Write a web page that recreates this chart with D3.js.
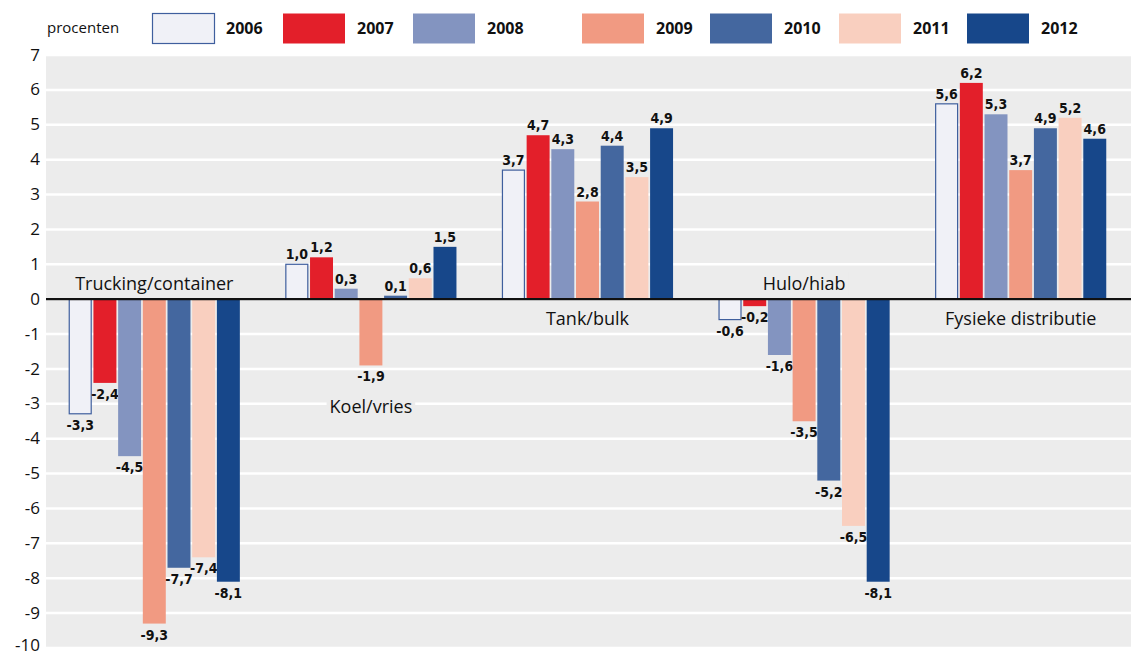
<!DOCTYPE html>
<html><head><meta charset="utf-8">
<script src="https://cdn.jsdelivr.net/npm/d3@7"></script>
<style>body{margin:0;background:#fff}</style>
</head><body>
<svg id="c" width="1131" height="655"></svg>
<script>
const categories = ["Trucking/container","Koel/vries","Tank/bulk","Hulo/hiab","Fysieke distributie"];
const years = ["2006","2007","2008","2009","2010","2011","2012"];
const v2006 = [-3.3, 1.0, 3.7, -0.6, 5.6];
const v2007 = [-2.4, 1.2, 4.7, -0.2, 6.2];
const v2008 = [-4.5, 0.3, 4.3, -1.6, 5.3];
const v2009 = [-9.3, -1.9, 2.8, -3.5, 3.7];
const v2010 = [-7.7, 0.1, 4.4, -5.2, 4.9];
const v2011 = [-7.4, 0.6, 3.5, -6.5, 5.2];
const v2012 = [-8.1, 1.5, 4.9, -8.1, 4.6];
const yTicks = [7,6,5,4,3,2,1,0,-1,-2,-3,-4,-5,-6,-7,-8,-9,-10];
const unitLabel = "procenten";

(function(){
const series = [v2006,v2007,v2008,v2009,v2010,v2011,v2012];
const colors = ["#f0f1f7","#e31f2a","#8394c0","#f19a82","#44679f","#f9cfbf","#17478a"];

const svg = d3.select("#c");
const pL = 46, pR = 1131, pT = 55, pB = 648;
const y = d3.scaleLinear().domain([-10,7]).range([pB, pT]);
const x0 = d3.scaleBand().domain(categories).range([pL, 1129]).paddingInner(0.21).paddingOuter(0.105);
const x1 = d3.scaleBand().domain(years).range([0, x0.bandwidth()]).paddingInner(0.07);

svg.append("rect").attr("x", pL).attr("y", pT).attr("width", pR-pL).attr("height", pB-pT).attr("fill","#ececec");
svg.append("g").selectAll("line").data(yTicks).join("line")
  .attr("x1", pL).attr("x2", pR).attr("y1", d=>y(d)).attr("y2", d=>y(d))
  .attr("stroke","#fff").attr("stroke-width",2.5);

const yAxis = d3.axisLeft(y).tickValues(yTicks).tickSize(0).tickPadding(6).tickFormat(d=>String(d));
const ya = svg.append("g").attr("transform",`translate(${pL},0)`).call(yAxis);
ya.select(".domain").remove();
ya.selectAll("text").attr("font-family","'Open Sans', sans-serif").attr("font-size",17).attr("fill","#111")
  .attr("dy", d => d === -10 ? "0.12em" : "0.3em");

const catG = svg.append("g");
categories.forEach((c,i)=>{
  const vals = series.map(s=>s[i]);
  const mx = d3.max(vals), mn = d3.min(vals);
  let cy;
  if (mx <= 0) cy = y(0) - 15;
  else if (mn >= 0) cy = y(0) + 20;
  else cy = y(mn) + 41;
  const cx = x0(c) + x0.bandwidth()/2;
  const t = catG.append("text").attr("x", cx).attr("y", cy).attr("dy","0.35em")
    .attr("text-anchor","middle").attr("font-family","'Open Sans', sans-serif").attr("font-size",18).attr("fill","#111").text(c);
  const bb = t.node().getBBox();
  catG.insert("rect","text").attr("x", bb.x-3).attr("y", bb.y).attr("width", bb.width+6).attr("height", bb.height).attr("fill","#ececec");
});

const fmt = v => v.toFixed(1).replace(".", ",");
const barG = svg.append("g");
years.forEach((yr, j)=>{
  const g = barG.append("g");
  const dat = categories.map((c,i)=>({c, v: series[j][i]}));
  g.selectAll("rect").data(dat).join("rect")
    .attr("x", d=>x0(d.c)+x1(yr) + (j===0?0.5:0))
    .attr("width", x1.bandwidth() - (j===0?1:0))
    .attr("y", d=>y(Math.max(0,d.v)))
    .attr("height", d=>Math.abs(y(d.v)-y(0)) - (j===0?0.5:0))
    .attr("fill", colors[j])
    .attr("stroke", j===0 ? "#3f5f9e" : "none")
    .attr("stroke-width", 1.2);
  g.selectAll("text").data(dat).join("text")
    .attr("x", d=>x0(d.c)+x1(yr)+x1.bandwidth()/2)
    .attr("y", d=> d.v>=0 ? y(d.v)-5 : y(d.v)+16)
    .attr("text-anchor","middle")
    .attr("font-family","'DejaVu Sans Condensed', 'DejaVu Sans', sans-serif")
    .attr("font-stretch","condensed")
    .attr("font-weight","bold").attr("font-size",14).attr("fill","#111")
    .text(d=>fmt(d.v));
});

svg.append("line").attr("x1", pL).attr("x2", pR).attr("y1", y(0)).attr("y2", y(0)).attr("stroke","#111").attr("stroke-width",2.2);

svg.append("text").attr("x",47).attr("y",28).attr("dy","0.35em").attr("font-family","'Open Sans', sans-serif").attr("font-size",15).attr("fill","#111").text(unitLabel);
const legendX = [152, 283, 413, 582, 710, 839, 967];
const lg = svg.append("g");
years.forEach((yr,j)=>{
  lg.append("rect").attr("x", legendX[j] + (j===0?0.5:0)).attr("y", 13.5).attr("width", 62).attr("height", 30)
    .attr("fill", colors[j]).attr("stroke", j===0?"#3f5f9e":"none").attr("stroke-width",1.2);
  lg.append("text").attr("x", legendX[j]+74).attr("y", 28).attr("dy","0.35em")
    .attr("font-family","'Open Sans', sans-serif").attr("font-weight","bold").attr("font-size",16).attr("fill","#111").text(yr);
});
})();
</script>
</body></html>
